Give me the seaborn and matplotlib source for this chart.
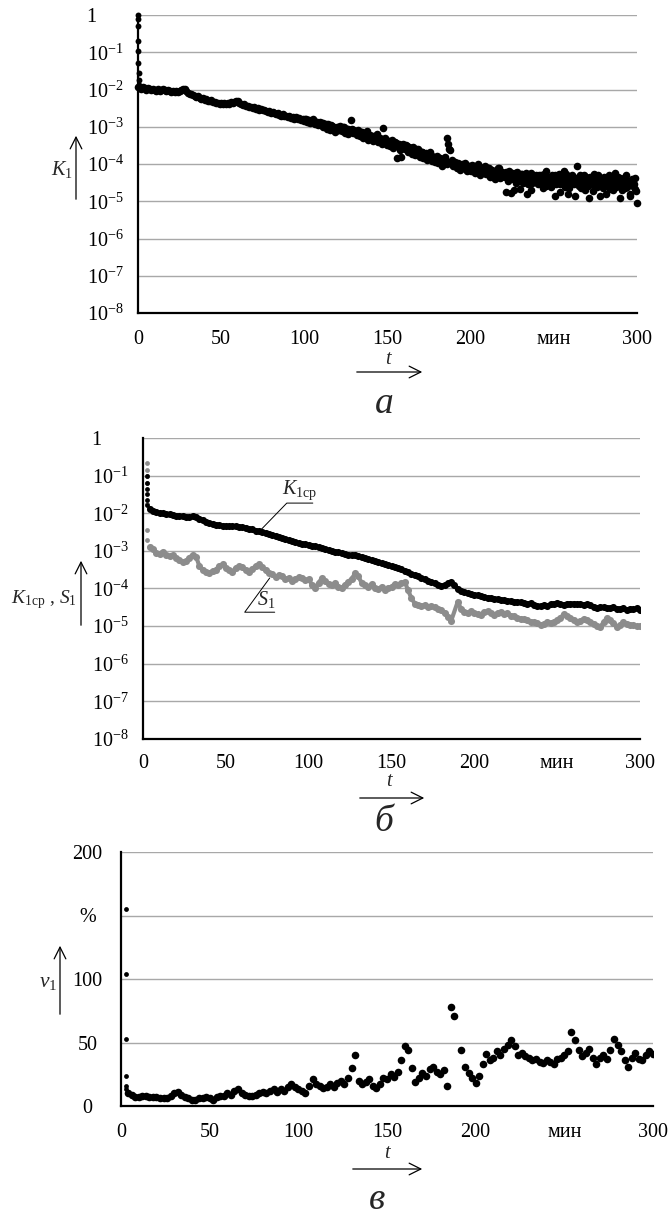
import numpy as np
import matplotlib
matplotlib.use("Agg")
import matplotlib.pyplot as plt
from matplotlib.patches import FancyArrowPatch
import seaborn as sns

sns.set_style("white")
plt.rcParams['font.family'] = ['Liberation Serif', 'DejaVu Serif']
plt.rcParams['mathtext.fontset'] = 'custom'
plt.rcParams['mathtext.rm'] = 'Liberation Serif'
plt.rcParams['mathtext.it'] = 'Liberation Serif:italic'
plt.rcParams['mathtext.bf'] = 'Liberation Serif:bold'

# ---------------- DATA ----------------
# Panel a: K1 (log10), initial transient at t ~ 0
t_a0 = [0, 0, 0, 0.1, 0.2, 0.3, 0.4, 0.5, 0.7]
logK1_a0 = [0, -0.1, -0.3, -0.7, -0.97, -1.3, -1.57, -1.75, -1.88]

# Panel a: K1 (log10), one value per minute, t = 0..300
logK1_main = [
    -1.92, -1.95, -1.98, -1.94, -1.97, -2.0, -1.96, -1.99, -2.02, -1.98,
    -2.0, -2.04, -1.99, -2.03, -2.01, -1.98, -2.02, -2.05, -2.0, -2.04,
    -2.06, -2.03, -2.07, -2.04, -2.08, -2.05, -2.02, -1.99, -1.98, -2.03,
    -2.1, -2.13, -2.11, -2.16, -2.18, -2.2, -2.17, -2.23, -2.25, -2.24,
    -2.28, -2.26, -2.3, -2.32, -2.29, -2.34, -2.33, -2.36, -2.35, -2.38,
    -2.37, -2.4, -2.36, -2.39, -2.35, -2.38, -2.34, -2.37, -2.33, -2.31,
    -2.32, -2.35, -2.38, -2.42, -2.4, -2.45, -2.43, -2.47, -2.46, -2.5,
    -2.48, -2.52, -2.5, -2.55, -2.53, -2.56, -2.54, -2.58, -2.6, -2.57,
    -2.62, -2.6, -2.64, -2.66, -2.63, -2.68, -2.7, -2.67, -2.72, -2.7,
    -2.74, -2.71, -2.76, -2.73, -2.78, -2.75, -2.8, -2.77, -2.82, -2.79,
    -2.84, -2.8, -2.86, -2.83, -2.88, -2.85, -2.9, -2.87, -2.92, -2.89,
    -2.95, -2.9, -2.98, -2.93, -2.99, -3.02, -2.96, -3.04, -3.0, -3.06,
    -3.02, -3.08, -3.05, -3.1, -3.0, -3.12, -3.07, -3.14, -2.82, -3.1,
    -3.15, -3.11, -3.18, -3.2, -3.14, -3.22, -3.25, -3.19, -3.28, -3.24,
    -3.3, -3.26, -3.34, -3.29, -3.36, -3.32, -3.38, -3.04, -3.35, -3.4,
    -3.42, -3.38, -3.45, -3.41, -3.48, -3.44, -3.52, -3.47, -3.8, -3.53,
    -3.56, -3.5, -3.6, -3.55, -3.63, -3.58, -3.66, -3.61, -3.69, -3.64,
    -3.72, -3.67, -3.76, -3.7, -3.8, -3.74, -3.84, -3.78, -3.88, -3.82,
    -3.9, -3.86, -3.94, -3.88, -3.96, -3.92, -3.3, -3.6, -3.98, -3.94,
    -4.02, -3.96, -4.05, -3.99, -4.08, -4.01, -4.1, -4.04, -4.12, -4.06,
    -4.1, -4.02, -4.15, -4.07, -4.2, -4.05, -4.18, -4.1, -4.25, -4.13,
    -4.2, -4.1, -4.28, -4.15, -4.32, -4.18, -4.3, -4.12, -4.35, -4.22,
    -4.28, -4.75, -4.3, -4.2, -4.38, -4.25, -4.7, -4.32, -4.22, -4.4,
    -4.35, -4.28, -4.45, -4.3, -4.8, -4.38, -4.25, -4.5, -4.33, -4.42,
    -4.48, -4.3, -4.55, -4.38, -4.28, -4.6, -4.4, -4.35, -4.52, -4.3,
    -4.45, -4.85, -4.38, -4.28, -4.55, -4.42, -4.2, -4.5, -4.35, -4.65,
    -4.4, -4.3, -4.55, -4.45, -4.05, -4.6, -4.38, -4.5, -4.3, -4.7,
    -4.45, -4.9, -4.35, -4.55, -4.28, -4.48, -4.62, -4.4, -4.85, -4.5,
    -4.35, -4.58, -4.45, -4.3, -4.66, -4.4, -4.55, -4.25, -4.6, -4.48,
    -4.38, -4.7, -4.52, -4.35, -4.62, -4.45, -4.8, -4.4, -4.55, -4.68,
    -5.05,
]
# Panel a: additional K1 readings at half-minutes, t = 100.5..299.5
logK1_extra = [
    -2.78, -2.88, -2.82, -2.9, -2.85, -2.8, -2.93, -2.86, -2.95, -2.88,
    -2.9, -3.0, -2.94, -3.05, -2.92, -3.1, -2.98, -3.06, -3.15, -3.0,
    -3.08, -2.98, -3.12, -3.02, -3.16, -3.06, -3.2, -3.1, -3.05, -3.18,
    -3.12, -3.22, -3.08, -3.26, -3.15, -3.3, -3.2, -3.12, -3.35, -3.22,
    -3.27, -3.38, -3.25, -3.2, -3.42, -3.3, -3.45, -3.36, -3.3, -3.5,
    -3.38, -3.52, -3.35, -3.58, -3.42, -3.85, -3.46, -3.62, -3.5, -3.45,
    -3.6, -3.52, -3.68, -3.58, -3.72, -3.55, -3.75, -3.65, -3.6, -3.8,
    -3.68, -3.85, -3.72, -3.9, -3.76, -3.68, -3.92, -3.82, -3.95, -3.78,
    -3.98, -3.85, -4.05, -3.92, -3.82, -4.0, -3.45, -3.62, -3.9, -4.05,
    -3.95, -4.1, -3.98, -4.15, -4.02, -4.12, -3.96, -4.2, -4.05, -4.15,
    -4.18, -4.05, -4.25, -4.12, -4.0, -4.3, -4.15, -4.22, -4.05, -4.28,
    -4.12, -4.35, -4.18, -4.25, -4.4, -4.2, -4.1, -4.38, -4.25, -4.3,
    -4.35, -4.22, -4.45, -4.3, -4.78, -4.4, -4.25, -4.5, -4.35, -4.68,
    -4.28, -4.5, -4.4, -4.25, -4.55, -4.42, -4.7, -4.35, -4.48, -4.3,
    -4.55, -4.4, -4.3, -4.65, -4.45, -4.2, -4.5, -4.38, -4.62, -4.45,
    -4.3, -4.55, -4.48, -4.75, -4.35, -4.5, -4.62, -4.28, -4.8, -4.4,
    -4.55, -4.42, -4.85, -4.38, -4.5, -4.3, -4.65, -4.45, -4.58, -4.35,
    -4.6, -4.4, -4.5, -4.72, -4.38, -4.6, -4.3, -4.55, -4.42, -4.65,
    -4.45, -4.8, -4.38, -4.55, -4.42, -4.7, -4.5, -4.62, -4.35, -4.9,
    -4.5, -4.4, -4.65, -4.3, -4.55, -4.85, -4.45, -4.6, -4.38, -4.72,
]

# Panel b: initial values at t ~ 2.5
logK1cp_0 = [-1.0, -1.2, -1.35, -1.5, -1.65, -1.78]
logS1_0 = [-0.66, -0.85, -1.0, -1.2, -1.75, -2.45, -2.7]
# Panel b: K1cp and S1 (log10), t = 4..300 step 2
logK1cp = [
    -1.88, -1.93, -1.96, -1.99, -2.0, -2.02, -2.03, -2.04, -2.06, -2.07,
    -2.08, -2.09, -2.1, -2.08, -2.09, -2.14, -2.18, -2.22, -2.26, -2.28,
    -2.3, -2.32, -2.33, -2.34, -2.35, -2.34, -2.35, -2.36, -2.37, -2.38,
    -2.41, -2.43, -2.46, -2.48, -2.5, -2.52, -2.55, -2.57, -2.6, -2.63,
    -2.66, -2.69, -2.72, -2.75, -2.77, -2.79, -2.81, -2.82, -2.84, -2.86,
    -2.88, -2.9, -2.93, -2.96, -2.98, -3.0, -3.02, -3.04, -3.06, -3.08,
    -3.1, -3.11, -3.1, -3.13, -3.16, -3.19, -3.22, -3.25, -3.28, -3.3,
    -3.33, -3.35, -3.38, -3.41, -3.43, -3.46, -3.49, -3.53, -3.57, -3.61,
    -3.64, -3.68, -3.72, -3.76, -3.79, -3.82, -3.86, -3.9, -3.93, -3.92,
    -3.86, -3.83, -3.92, -4.02, -4.07, -4.1, -4.12, -4.14, -4.16, -4.18,
    -4.2, -4.22, -4.24, -4.25, -4.27, -4.28, -4.3, -4.31, -4.32, -4.33,
    -4.36, -4.35, -4.37, -4.38, -4.4, -4.39, -4.43, -4.46, -4.47, -4.44,
    -4.46, -4.42, -4.4, -4.38, -4.41, -4.43, -4.41, -4.4, -4.4, -4.42,
    -4.41, -4.43, -4.42, -4.44, -4.48, -4.52, -4.49, -4.5, -4.51, -4.53,
    -4.5, -4.54, -4.55, -4.53, -4.56, -4.54, -4.55, -4.53, -4.56,
]
logS1 = [
    -2.9, -2.95, -3.05, -3.07, -3.02, -3.1, -3.14, -3.12, -3.2, -3.24,
    -3.3, -3.28, -3.18, -3.1, -3.15, -3.4, -3.5, -3.55, -3.58, -3.53,
    -3.5, -3.4, -3.36, -3.45, -3.5, -3.55, -3.45, -3.4, -3.43, -3.5,
    -3.55, -3.48, -3.4, -3.36, -3.44, -3.52, -3.6, -3.62, -3.7, -3.65,
    -3.68, -3.74, -3.72, -3.8, -3.75, -3.7, -3.73, -3.78, -3.76, -3.9,
    -3.98, -3.85, -3.72, -3.8, -3.88, -3.92, -3.85, -3.95, -3.98, -3.9,
    -3.82, -3.74, -3.6, -3.68, -3.85, -3.9, -3.95, -3.88, -3.98, -4.02,
    -3.95, -4.05, -3.98, -3.95, -3.88, -3.92, -3.85, -3.82, -4.05, -4.25,
    -4.4, -4.44, -4.46, -4.45, -4.48, -4.47, -4.5, -4.55, -4.58, -4.66,
    -4.75, -4.86, np.nan, -4.35, -4.55, -4.62, -4.64, -4.6, -4.65, -4.68,
    -4.7, -4.62, -4.6, -4.66, -4.7, -4.64, -4.62, -4.68, -4.66, -4.72,
    -4.74, -4.78, -4.8, -4.82, -4.84, -4.88, -4.9, -4.92, -4.96, -4.94,
    -4.9, -4.92, -4.88, -4.85, -4.78, -4.68, -4.72, -4.78, -4.84, -4.9,
    -4.86, -4.8, -4.84, -4.88, -4.94, -5.0, -5.02, -4.9, -4.78, -4.84,
    -4.92, -5.02, -4.96, -4.9, -4.94, -4.96, -4.98, -5.0, -5.0,
]

# Panel c: nu1 (%), initial values at t ~ 3, then t = 4..300 step 2
nu1_0 = [155, 104, 53, 24, 16, 13]
nu1 = [
    10, 9, 7, 7, 8, 8, 7, 7, 7, 6,
    6, 6, 8, 10, 11, 9, 7, 6, 5, 5,
    6, 6, 7, 6, 5, 7, 8, 8, 10, 9,
    12, 13, 10, 9, 8, 8, 9, 10, 11, 10,
    12, 13, 11, 13, 12, 15, 17, 15, 13, 12,
    10, 16, 21, 17, 16, 14, 15, 17, 15, 18,
    20, 17, 22, 30, 40, 20, 17, 19, 21, 16,
    14, 17, 22, 21, 25, 23, 27, 36, 47, 44,
    30, 19, 22, 26, 24, 29, 31, 27, 25, 28,
    16, 78, 71, np.nan, 44, 31, 26, 22, 18, 24,
    33, 41, 36, 38, 43, 40, 45, 48, 52, 47,
    40, 42, 39, 38, 36, 37, 35, 34, 36, 35,
    33, 37, 38, 40, 43, 58, 52, 44, 39, 42,
    45, 38, 33, 38, 40, 37, 44, 53, 48, 43,
    36, 31, 38, 42, 37, 36, 40, 43, 41,
]

x_ticks = [0, 50, 100, 150, 200, 250, 300]
x_ticklabels = ['0', '50', '100', '150', '200', 'мин', '300']
log_ticks = [1e0, 1e-1, 1e-2, 1e-3, 1e-4, 1e-5, 1e-6, 1e-7, 1e-8]
log_ticklabels = ['1'] + [r'$\mathregular{10^{-%d}}$' % k for k in range(1, 9)]
nu_ticks = [0, 50, 100, 150, 200]
nu_ticklabels = ['0', '50', '100', '%', '200']

# time axes
t_main = np.arange(0, 301, 1.0)
t_extra = np.arange(100.5, 300, 1.0)
t_b = np.arange(4, 301, 2.0)

W, H = 670, 1219
fig = plt.figure(figsize=(W / 100, H / 100), dpi=100)


def fr(x0, y0, x1, y1):
    return [x0 / W, 1 - y1 / H, (x1 - x0) / W, (y1 - y0) / H]


FS = 14.5
GRID = '#a8a8a8'


def style_axis(ax, xpad, ylabpad, yha):
    for s in ['top', 'right']:
        ax.spines[s].set_visible(False)
    for s in ['left', 'bottom']:
        ax.spines[s].set_linewidth(1.6)
        ax.spines[s].set_color('black')
    ax.set_xlim(0, 300)
    ax.set_xticks(x_ticks)
    ax.set_xticklabels(x_ticklabels, fontsize=FS)
    ax.tick_params(axis='x', direction='in', length=4, width=1.3, pad=xpad, colors='black')
    ax.tick_params(axis='y', direction='out', length=2, width=1.0, pad=ylabpad, colors='black')
    for lab in ax.get_yticklabels():
        lab.set_horizontalalignment(yha)
        lab.set_fontsize(FS)
    ax.yaxis.grid(True, color=GRID, lw=1.0)
    ax.xaxis.grid(False)
    ax.set_xlabel('')
    ax.set_ylabel('')
    ax.set_facecolor('none')


def arrow(x0, y0, x1, y1):
    a = FancyArrowPatch((x0 / W, 1 - y0 / H), (x1 / W, 1 - y1 / H), transform=fig.transFigure,
                        arrowstyle='->,head_length=0.6,head_width=0.3', mutation_scale=14,
                        lw=0.9, color='black')
    fig.add_artist(a)


def ftext(x, y, s, **kw):
    fig.text(x / W, 1 - y / H, s, **kw)


# ---------------- Panel a ----------------
ax1 = fig.add_axes(fr(138, 15, 637, 313))
sns.scatterplot(x=t_main, y=10 ** np.array(logK1_main), ax=ax1, color='black', s=30,
                linewidth=0, legend=False, clip_on=False, zorder=3)
sns.scatterplot(x=t_extra, y=10 ** np.array(logK1_extra), ax=ax1, color='black', s=30,
                linewidth=0, legend=False, clip_on=False, zorder=3)
sns.scatterplot(x=t_a0, y=10 ** np.array(logK1_a0), ax=ax1, color='black', s=18,
                linewidth=0, legend=False, clip_on=False, zorder=3)
ax1.set_yscale('log')
ax1.set_ylim(1e-8, 1)
ax1.set_yticks(log_ticks)
ax1.set_yticklabels(log_ticklabels)
ax1.minorticks_off()
style_axis(ax1, 12.5, 35, 'left')

ftext(62, 170, r'$K_1$', fontsize=FS, ha='center', va='center')
arrow(76, 202, 76, 133)
ftext(389, 359, r'$t$', fontsize=FS, ha='center', va='center')
arrow(354, 372, 425, 372)
ftext(384, 404, 'а', fontsize=27, style='italic', ha='center', va='center')

# ---------------- Panel b ----------------
ax2 = fig.add_axes(fr(143, 438, 640, 739))
sns.lineplot(x=t_b, y=10 ** np.array(logS1), ax=ax2, color='#8c8c8c', lw=3.0,
             legend=False, zorder=3)
sns.scatterplot(x=t_b, y=10 ** np.array(logS1), ax=ax2, color='#8c8c8c', s=26,
                linewidth=0, legend=False, zorder=3)
sns.scatterplot(x=[2.5] * len(logS1_0), y=10 ** np.array(logS1_0), ax=ax2, color='#8c8c8c',
                s=12, linewidth=0, legend=False, zorder=3)
sns.lineplot(x=t_b, y=10 ** np.array(logK1cp), ax=ax2, color='black', lw=3.2,
             legend=False, zorder=4)
sns.scatterplot(x=t_b, y=10 ** np.array(logK1cp), ax=ax2, color='black', s=26,
                linewidth=0, legend=False, zorder=4)
sns.scatterplot(x=[2.5] * len(logK1cp_0), y=10 ** np.array(logK1cp_0), ax=ax2, color='black',
                s=12, linewidth=0, legend=False, zorder=4)
ax2.set_yscale('log')
ax2.set_ylim(1e-8, 1)
ax2.set_yticks(log_ticks)
ax2.set_yticklabels(log_ticklabels)
ax2.minorticks_off()
style_axis(ax2, 10.5, 35, 'left')

# leader annotations
ax2.plot([70.5, 86.8, 102.5], [10 ** -2.47, 10 ** -1.73, 10 ** -1.73], color='black', lw=0.7, zorder=5)
ax2.text(84, 10 ** -1.40, r'$K_{1\mathrm{ср}}$', fontsize=FS, ha='left', va='center')
ax2.plot([76.5, 61.4, 79.5], [10 ** -3.72, 10 ** -4.63, 10 ** -4.63], color='black', lw=0.7, zorder=5)
ax2.text(69, 10 ** -4.30, r'$S_1$', fontsize=FS, ha='left', va='center')

ftext(44, 600, r'$K_{1\mathrm{ср}}$ , $S_1$', fontsize=FS - 0.5, ha='center', va='center')
arrow(81, 628, 81, 558)
ftext(390, 782, r'$t$', fontsize=FS, ha='center', va='center')
arrow(357, 798, 427, 798)
ftext(384, 822, 'б', fontsize=27, style='italic', ha='center', va='center')

# ---------------- Panel c ----------------
ax3 = fig.add_axes(fr(121, 852, 653, 1106))
sns.scatterplot(x=t_b, y=nu1, ax=ax3, color='black', s=30, linewidth=0, legend=False, zorder=3)
sns.scatterplot(x=[3] * len(nu1_0), y=nu1_0, ax=ax3, color='black', s=12, linewidth=0,
                legend=False, zorder=3)
ax3.set_ylim(0, 200)
ax3.set_yticks(nu_ticks)
ax3.set_yticklabels(nu_ticklabels)
style_axis(ax3, 12.5, 22, 'center')

ftext(48, 983, r'$\nu_1$', fontsize=FS + 1, ha='center', va='center')
arrow(60, 1017, 60, 943)
ftext(388, 1154, r'$t$', fontsize=FS, ha='center', va='center')
arrow(350, 1169, 425, 1169)
ftext(377, 1200, 'в', fontsize=27, style='italic', ha='center', va='center')

fig.savefig('out.png', dpi=100)
